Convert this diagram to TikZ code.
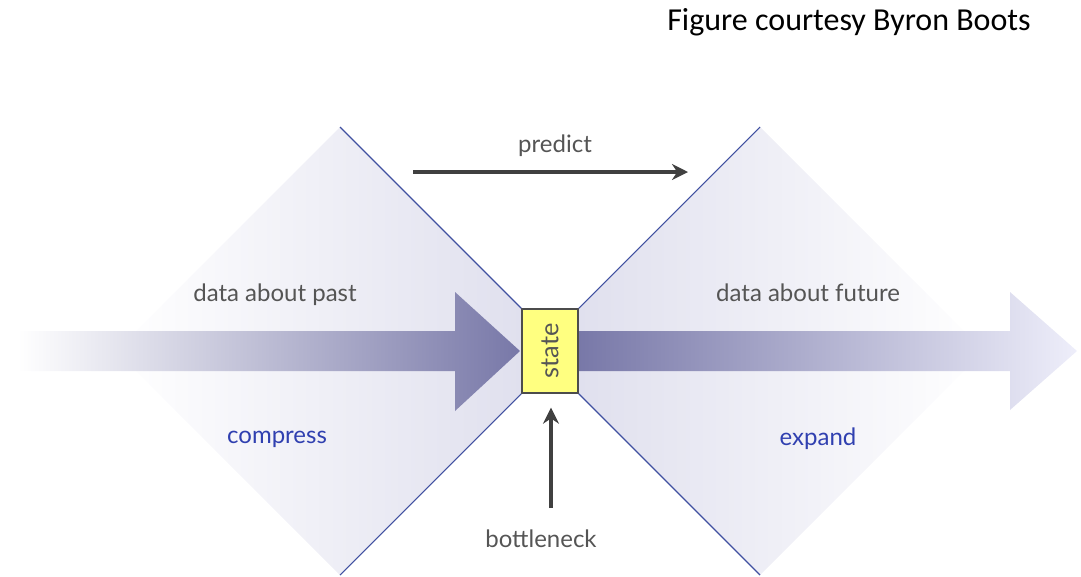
\documentclass[tikz,border=0pt]{standalone}
\usepackage{fontspec}
\setmainfont{Lato}
\newfontfamily\creditfont{Carlito}
\usepackage{tikz}
\usetikzlibrary{arrows.meta, positioning, calc}
\definecolor{edgeblue}{RGB}{64,80,160}
\definecolor{flowdark}{RGB}{120,120,168}
\definecolor{flowlight}{RGB}{238,238,250}
\definecolor{fanlav}{RGB}{224,224,238}
\definecolor{statefill}{RGB}{255,255,128}
\definecolor{lbltext}{RGB}{85,85,85}
\definecolor{opblue}{RGB}{48,64,176}
\tikzset{
    statebox/.style={rectangle, draw=black!70, line width=1pt, fill=statefill,
                     rotate=90, minimum width=63pt, minimum height=42pt,
                     inner sep=0pt, font=\fontsize{19}{22}\selectfont, text=lbltext},
    fanedge/.style={draw=edgeblue, line width=0.8pt},
    arrow/.style={-{Stealth[length=12pt, width=12pt]}, line width=2.6pt, draw=black!75},
    flowlbl/.style={font=\fontsize{18}{21}\selectfont, text=lbltext, inner sep=0pt},
    oplbl/.style={font=\fontsize{18}{21}\selectfont, text=opblue, inner sep=0pt},
    credit/.style={font=\creditfont\fontsize{24}{28}\selectfont, text=black, inner sep=0pt},
}
\begin{document}
\begin{tikzpicture}[x=0.75pt, y=-0.75pt]
        \useasboundingbox (0,0) rectangle (1081,576);
        % fans on both sides of the bottleneck
        \shade[left color=white, middle color=white!70!fanlav, right color=fanlav]
            (340,127) -- (522,309) -- (522,393) -- (340,575) -- (116,351) -- cycle;
        \shade[left color=fanlav, middle color=white!70!fanlav, right color=white]
            (760,127) -- (578,309) -- (578,393) -- (760,575) -- (984,351) -- cycle;
        % wide flow arrows
        \shade[left color=white, right color=flowdark]
            (18,331) -- (455,331) -- (455,292) -- (520,351) -- (455,411)
            -- (455,371) -- (18,371) -- cycle;
        \shade[left color=flowdark, right color=flowlight]
            (578,331) -- (1010,331) -- (1010,292) -- (1077,351) -- (1010,410)
            -- (1010,371) -- (578,371) -- cycle;
        \node[statebox] (state) at (550,351) {state};
        \draw[fanedge] (340,127) -- (state.north east);
        \draw[fanedge] (340,575) -- (state.north west);
        \draw[fanedge] (760,127) -- (state.south east);
        \draw[fanedge] (760,575) -- (state.south west);
        \node[flowlbl] (past) at (275,295) {data about past};
        \node[flowlbl] (future) at (808,293) {data about future};
        \node[oplbl] (compress) at (277,439) {compress};
        \node[oplbl] (expand) at (818,439) {expand};
        \node[flowlbl] (bottleneck) at (541,539) {bottleneck};
        \coordinate (predS) at (413,172);
        \coordinate (predE) at (688,172);
        \draw[arrow] (predS) -- node[flowlbl, midway, yshift=20pt, xshift=3.4pt] (predict) {predict} (predE);
        \coordinate (bnS) at (551,508);
        \draw[arrow] (bnS) -- ([yshift=-10.5pt]state.west -| bnS);
        \node[credit] (courtesy) at (849,22) {Figure courtesy Byron Boots};
    \end{tikzpicture}
\end{document}
